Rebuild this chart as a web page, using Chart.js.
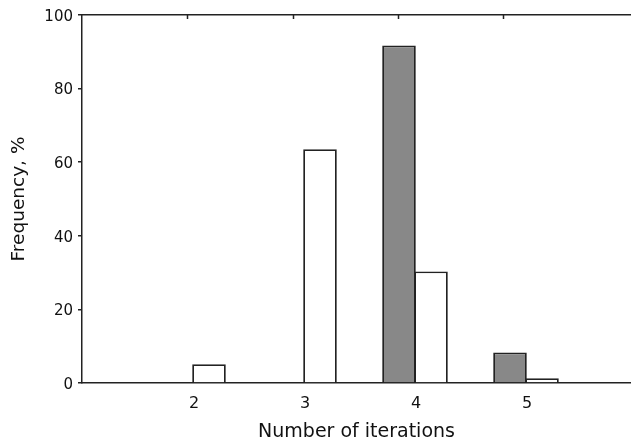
<!DOCTYPE html>
<html>
<head>
<meta charset="utf-8">
<script src="https://cdn.jsdelivr.net/npm/chart.js@4/dist/chart.umd.min.js"></script>
<style>
  html, body { margin: 0; padding: 0; background: #fff; }
  #wrap { width: 631px; height: 443px; }
</style>
</head>
<body>
<div id="wrap"><canvas id="c" width="631" height="443"></canvas></div>
<script>
// Data
const iterations = [2, 3, 4, 5];
const grayFreq   = [0, 0, 91.7, 8.3];
const whiteFreq  = [5.1, 63.5, 30.3, 1.3];
const yTicks     = [0, 20, 40, 60, 80, 100];
const xTickLabels = [2, 3, 4, 5];
const topTickMarks = [1, 2, 3, 4];

const toPoints = (vals) => iterations.map((x, i) => ({ x: x, y: vals[i] === 0 ? null : vals[i] }));

const AX = '#222';
Chart.defaults.font.family = "'DejaVu Sans', sans-serif";
Chart.defaults.color = '#111';

// inward tick marks on the top frame line, placed through the top scale
const topTicksPlugin = {
  id: 'topTicks',
  afterDraw(chart) {
    const s = chart.scales.xTop;
    const ctx = chart.ctx;
    const top = chart.chartArea.top;
    ctx.save();
    ctx.strokeStyle = AX;
    ctx.lineWidth = 1.5;
    topTickMarks.forEach(v => {
      const px = Math.round(s.getPixelForValue(v)) + 0.5;
      ctx.beginPath();
      ctx.moveTo(px, top);
      ctx.lineTo(px, top + 4);
      ctx.stroke();
    });
    ctx.restore();
  }
};

new Chart(document.getElementById('c'), {
  type: 'bar',
  data: {
    datasets: [
      { label: 'gray', data: toPoints(grayFreq), backgroundColor: '#888888', borderColor: AX, borderWidth: 1.8, xAxisID: 'x', yAxisID: 'y' },
      { label: 'white', data: toPoints(whiteFreq), backgroundColor: '#ffffff', borderColor: AX, borderWidth: 1.8, xAxisID: 'x', yAxisID: 'y' }
    ]
  },
  plugins: [topTicksPlugin],
  options: {
    responsive: false,
    animation: false,
    devicePixelRatio: 1,
    categoryPercentage: 0.5766,
    barPercentage: 1.05,
    layout: { padding: { left: 0, right: 0, top: 0, bottom: 0 } },
    plugins: { legend: { display: false }, tooltip: { enabled: false } },
    scales: {
      x: {
        type: 'linear',
        position: 'bottom',
        min: 1,
        max: 5.946,
        offset: false,
        afterBuildTicks: (s) => { s.ticks = xTickLabels.map(v => ({ value: v })); },
        afterFit: (s) => { s.height = 60; },
        ticks: { font: { size: 16 }, padding: 11, labelOffset: 1, color: '#111' },
        grid: { display: true, drawOnChartArea: false, drawTicks: false, offset: false, color: AX },
        border: { display: true, color: AX, width: 1.5 },
        title: { display: true, text: 'Number of iterations', font: { size: 19 }, color: '#111', padding: { top: 0, bottom: 0 } }
      },
      xTop: {
        type: 'linear',
        axis: 'x',
        position: 'top',
        min: 0,
        max: 549 / 105.3,
        offset: false,
        afterBuildTicks: (s) => { s.ticks = topTickMarks.map(v => ({ value: v })); },
        afterFit: (s) => { s.height = 15; },
        ticks: { display: false },
        grid: { display: true, drawOnChartArea: false, drawTicks: false, offset: false, color: AX, lineWidth: 1.5 },
        border: { display: true, color: AX, width: 1.5 }
      },
      y: {
        type: 'linear',
        position: 'left',
        min: 0,
        max: 100,
        afterBuildTicks: (s) => { s.ticks = yTicks.map(v => ({ value: v })); },
        afterFit: (s) => { s.width = 82; },
        ticks: { font: { size: 15 }, padding: 5, labelOffset: 2, color: '#111' },
        grid: { display: true, drawOnChartArea: false, drawTicks: true, tickLength: 4, color: AX, lineWidth: 1.5 },
        border: { display: true, color: AX, width: 1.5 },
        title: { display: true, text: 'Frequency, %', font: { size: 18.5 }, color: '#111', padding: { top: 8, bottom: 0 } }
      }
    }
  }
});
</script>
</body>
</html>
